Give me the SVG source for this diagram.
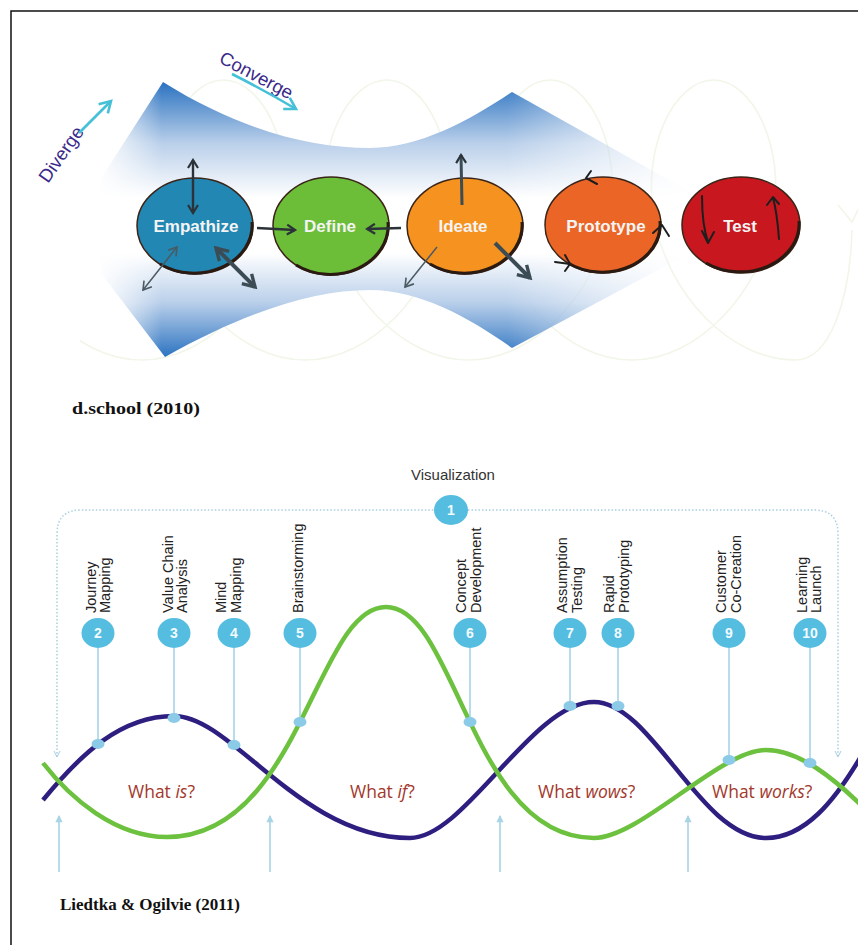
<svg xmlns="http://www.w3.org/2000/svg" width="858" height="945" viewBox="0 0 858 945">
<style>
.lbl{font-family:"Liberation Sans",Arial,sans-serif;font-weight:bold;font-size:17px;fill:#f4f4f4;text-anchor:middle}
.dc{font-family:"Liberation Sans",Arial,sans-serif;font-size:18.5px;fill:#3b2a8a}
.ring{stroke:#3a2418;stroke-width:1.5}
.shadow{fill:none;stroke:#2a1a12;stroke-width:3}
.ad{fill:none;stroke:#2b3238;stroke-width:2.4}
.ag{fill:none;stroke:#4a5a62;stroke-width:1.5}
.at{fill:none;stroke:#3c4c55;stroke-width:4}
.hook{fill:none;stroke:#1e1e1e;stroke-width:2;stroke-linecap:round;stroke-linejoin:round}
.cap{font-family:"Liberation Serif","Times New Roman",serif;font-weight:bold;font-size:17px;fill:#111}
.num{fill:#55bde0}
.numt{font-family:"Liberation Sans",Arial,sans-serif;font-weight:bold;font-size:14px;fill:#f2fbff;text-anchor:middle}
.tech{font-family:"Liberation Sans",Arial,sans-serif;font-size:14.5px;fill:#222}
.stem{stroke:#9fd0e4;stroke-width:1.5;fill:none}
.dot{fill:#8ccbe8}
.what{font-family:"Open Sans","Liberation Sans",sans-serif;font-size:17.5px;fill:#a3382b}
.up{stroke:#a8d4e6;stroke-width:1.6;fill:none}
.bg{fill:none;stroke:#f1f6e9;stroke-width:1.6}
</style>
<defs>
<linearGradient id="bowV" gradientUnits="userSpaceOnUse" x1="0" y1="82" x2="0" y2="358">
<stop offset="0" stop-color="#2a72c0"/>
<stop offset="0.22" stop-color="#b9cfea"/>
<stop offset="0.42" stop-color="#ffffff"/>
<stop offset="0.62" stop-color="#ffffff"/>
<stop offset="0.8" stop-color="#b9cfea"/>
<stop offset="1" stop-color="#2a72c0"/>
</linearGradient>
<linearGradient id="bowH" gradientUnits="userSpaceOnUse" x1="95" y1="0" x2="700" y2="0">
<stop offset="0" stop-color="#000"/>
<stop offset="0.11" stop-color="#fff"/>
<stop offset="0.68" stop-color="#fff"/>
<stop offset="1" stop-color="#000"/>
</linearGradient>
<mask id="bowM" maskUnits="userSpaceOnUse" x="0" y="0" width="858" height="400">
<rect x="0" y="0" width="858" height="400" fill="url(#bowH)"/>
</mask>
<clipPath id="bgClip"><rect x="80" y="40" width="778" height="340"/></clipPath>
<marker id="hd" viewBox="0 0 12 12" refX="10" refY="6" markerWidth="12" markerHeight="12" markerUnits="userSpaceOnUse" orient="auto-start-reverse">
<path d="M2,1 L10,6 L2,11" fill="none" stroke="#2b3238" stroke-width="2.2"/>
</marker>
<marker id="hg" viewBox="0 0 12 12" refX="10" refY="6" markerWidth="12" markerHeight="12" markerUnits="userSpaceOnUse" orient="auto-start-reverse">
<path d="M2,1 L10,6 L2,11" fill="none" stroke="#4a5a62" stroke-width="1.6"/>
</marker>
<marker id="ht" viewBox="0 0 16 16" refX="13" refY="8" markerWidth="17" markerHeight="17" markerUnits="userSpaceOnUse" orient="auto-start-reverse">
<path d="M2,1.5 L13,8 L2,14.5" fill="none" stroke="#3c4c55" stroke-width="3.2"/>
</marker>
<marker id="hc" viewBox="0 0 16 16" refX="13" refY="8" markerWidth="16" markerHeight="16" markerUnits="userSpaceOnUse" orient="auto">
<path d="M2,1.5 L13,8 L2,14.5" fill="none" stroke="#45c0d6" stroke-width="2.6"/>
</marker>
<marker id="hu" viewBox="0 0 10 10" refX="5" refY="1" markerWidth="9" markerHeight="9" markerUnits="userSpaceOnUse" orient="0">
<path d="M5,0 L9,8 L1,8 Z" fill="#a8d4e6"/>
</marker>
</defs>

<rect x="0" y="0" width="858" height="945" fill="#ffffff"/>
<path d="M11 945 L11 11 L858 11" fill="none" stroke="#111" stroke-width="1.5"/>

<!-- faint background loops -->
<g id="background-loops" clip-path="url(#bgClip)">
<path class="bg" d="M60 80 C21.3 80 -12.8 146.7 0.8 220 C14.4 293.3 75.7 360 141.7 360 C207.7 360 269 293.3 282.5 220 C296.1 146.7 262.1 80 223.4 80 C184.7 80 150.6 146.7 164.2 220 C177.8 293.3 239.1 360 305.1 360 C371.1 360 432.4 293.3 445.9 220 C459.5 146.7 425.5 80 386.8 80 C348.1 80 314 146.7 327.6 220 C341.2 293.3 402.5 360 468.5 360 C534.5 360 595.8 293.3 609.3 220 C622.9 146.7 588.9 80 550.2 80 C511.5 80 477.4 146.7 491 220 C504.6 293.3 565.9 360 631.9 360 C697.9 360 759.2 293.3 772.7 220 C786.3 146.7 752.3 80 713.6 80 C674.9 80 640.8 146.7 654.4 220 C668 293.3 729.3 360 795.3 360 C830 360 850 300 852 230"/>
<path class="bg" d="M838 205 L852 222 L862 202"/>
</g>

<!-- bowtie shape -->
<g id="diverge-converge-shape">
<path d="M163 82 C240 130 310 148 370 148 C420 148 470 120 512 92 L705 200 L705 245 L512 348 C470 318 420 290 370 290 C310 290 240 315 165 357 L100 272 L100 180 Z" fill="url(#bowV)" mask="url(#bowM)"/>
</g>

<g id="diverge-label">
<text class="dc" transform="translate(48,184) rotate(-55)">Diverge</text>
</g>
<g id="converge-label">
<text class="dc" transform="translate(218,62) rotate(28)">Converge</text>
</g>

<g id="connectors-top">
<path d="M79 133 L111 101" fill="none" stroke="#45c0d6" stroke-width="2.6" marker-end="url(#hc)"/>
<path d="M232 74 Q262 89 296 109" fill="none" stroke="#45c0d6" stroke-width="2.6" marker-end="url(#hc)"/>
</g>

<!-- nodes -->
<g id="empathize">
<ellipse cx="195" cy="226" rx="58" ry="48" fill="#2287b3" class="ring"/>
<path class="shadow" d="M252 222 A58 48 0 0 1 160 264"/>
<text class="lbl" x="196" y="232">Empathize</text>
</g>
<g id="define">
<ellipse cx="331" cy="226" rx="58" ry="49" fill="#6cbd38" class="ring"/>
<path class="shadow" d="M388 222 A58 49 0 0 1 296 265"/>
<text class="lbl" x="330" y="232">Define</text>
</g>
<g id="ideate">
<ellipse cx="465" cy="226" rx="58" ry="48" fill="#f6921f" class="ring"/>
<path class="shadow" d="M522 222 A58 48 0 0 1 430 264"/>
<text class="lbl" x="463" y="232">Ideate</text>
</g>
<g id="prototype">
<ellipse cx="603" cy="225" rx="58" ry="48" fill="#ea6526" class="ring"/>
<path class="shadow" d="M660 221 A58 48 0 0 1 568 263"/>
<text class="lbl" x="606" y="232">Prototype</text>
</g>
<g id="test">
<ellipse cx="741" cy="225" rx="59" ry="48" fill="#c8171e" class="ring"/>
<path class="shadow" d="M799 221 A59 48 0 0 1 706 263"/>
<text class="lbl" x="740" y="232">Test</text>
</g>

<g id="connectors-circles">
<line class="ad" x1="193" y1="160" x2="193" y2="213" marker-start="url(#hd)" marker-end="url(#hd)"/>
<line class="ag" x1="143" y1="290" x2="177" y2="247" marker-start="url(#hg)" marker-end="url(#hg)"/>
<line class="at" x1="216" y1="248" x2="255" y2="287" marker-start="url(#ht)" marker-end="url(#ht)"/>
<line class="ad" x1="257" y1="228" x2="295" y2="230" marker-end="url(#hd)"/>
<line class="ad" x1="401" y1="228" x2="367" y2="229" marker-end="url(#hd)"/>
<line class="at" x1="462" y1="205" x2="461" y2="155" style="stroke-width:3" marker-end="url(#hd)"/>
<line class="ag" x1="437" y1="247" x2="405" y2="287" marker-end="url(#hg)"/>
<line class="at" x1="495" y1="243" x2="530" y2="278" marker-end="url(#ht)"/>
<path class="hook" d="M591 171 L586 178 L597 184"/>
<path class="hook" d="M653 233 L662 225 L669 236"/>
<path class="hook" d="M555 262 L570 264 M565 255 L570 264 L565 271"/>
<path class="hook" d="M702 196 Q702 225 708 242 M702 231 L708 243 L714 232"/>
<path class="hook" d="M779 239 Q777 212 773 198 M767 205 L773 197 L779 204"/>
</g>

<text class="cap" x="72" y="414" textLength="128" lengthAdjust="spacingAndGlyphs">d.school (2010)</text>

<!-- bottom diagram -->
<text x="453" y="480" font-family="Liberation Sans, Arial, sans-serif" font-size="15" fill="#333" text-anchor="middle">Visualization</text>

<g id="frame">
<path d="M57 757 L57 534 Q57 510 81 510 L434 510 M468 510 L814 510 Q838 510 838 534 L838 757" fill="none" stroke="#a8d0e0" stroke-width="1.5" stroke-dasharray="1.5 2"/>
<path d="M54 751 L57 757 L60 751 M835 751 L838 757 L841 751" fill="none" stroke="#a8d0e0" stroke-width="1"/>
</g>

<g id="curves">
<path d="M43 800 C80 755 120 716 174 716 C232 716 300 838 410 838 C465 838 532 702 594 702 C652 702 700 838 766 838 C805 838 835 800 860 758" fill="none" stroke="#2d1e80" stroke-width="4.5"/>
<path d="M43 763 C70 798 115 837 167 837 C300 837 316 607 386 607 C456 607 471 838 594 838 C640 838 720 750 766 750 C800 750 835 780 860 804" fill="none" stroke="#6cc13e" stroke-width="4.5"/>
</g>

<g id="stems">
<line class="stem" x1="98" y1="648" x2="98" y2="745"/>
<line class="stem" x1="174" y1="648" x2="174" y2="716"/>
<line class="stem" x1="234" y1="648" x2="234" y2="745"/>
<line class="stem" x1="300" y1="648" x2="300" y2="722"/>
<line class="stem" x1="470" y1="648" x2="470" y2="722"/>
<line class="stem" x1="570" y1="648" x2="570" y2="705"/>
<line class="stem" x1="618" y1="648" x2="618" y2="705"/>
<line class="stem" x1="729" y1="648" x2="729" y2="760"/>
<line class="stem" x1="810" y1="648" x2="810" y2="763"/>
<ellipse class="dot" cx="98" cy="744" rx="6.5" ry="5"/>
<ellipse class="dot" cx="174" cy="718" rx="6.5" ry="5"/>
<ellipse class="dot" cx="234" cy="745" rx="6.5" ry="5"/>
<ellipse class="dot" cx="300" cy="722" rx="6.5" ry="5"/>
<ellipse class="dot" cx="470" cy="722" rx="6.5" ry="5"/>
<ellipse class="dot" cx="570" cy="706" rx="6.5" ry="5"/>
<ellipse class="dot" cx="618" cy="706" rx="6.5" ry="5"/>
<ellipse class="dot" cx="729" cy="760" rx="6.5" ry="5"/>
<ellipse class="dot" cx="810" cy="763" rx="6.5" ry="5"/>
</g>

<g id="up-arrows">
<line class="up" x1="59" y1="872" x2="59" y2="816" marker-end="url(#hu)"/>
<line class="up" x1="270" y1="872" x2="270" y2="816" marker-end="url(#hu)"/>
<line class="up" x1="500" y1="872" x2="500" y2="816" marker-end="url(#hu)"/>
<line class="up" x1="688" y1="872" x2="688" y2="816" marker-end="url(#hu)"/>
</g>

<g id="step-1"><ellipse class="num" cx="451" cy="510" rx="17" ry="15"/><text class="numt" x="451" y="515">1</text></g>
<g id="step-2"><ellipse class="num" cx="98" cy="633" rx="16.5" ry="15"/><text class="numt" x="98" y="638">2</text>
<text class="tech" transform="translate(96,613) rotate(-90)">Journey</text><text class="tech" transform="translate(110,613) rotate(-90)">Mapping</text></g>
<g id="step-3"><ellipse class="num" cx="174" cy="633" rx="16.5" ry="15"/><text class="numt" x="174" y="638">3</text>
<text class="tech" transform="translate(173,613) rotate(-90)">Value Chain</text><text class="tech" transform="translate(187,613) rotate(-90)">Analysis</text></g>
<g id="step-4"><ellipse class="num" cx="234" cy="633" rx="16.5" ry="15"/><text class="numt" x="234" y="638">4</text>
<text class="tech" transform="translate(226,613) rotate(-90)">Mind</text><text class="tech" transform="translate(241,613) rotate(-90)">Mapping</text></g>
<g id="step-5"><ellipse class="num" cx="300" cy="633" rx="16.5" ry="15"/><text class="numt" x="300" y="638">5</text>
<text class="tech" transform="translate(303,613) rotate(-90)">Brainstorming</text></g>
<g id="step-6"><ellipse class="num" cx="470" cy="633" rx="16.5" ry="15"/><text class="numt" x="470" y="638">6</text>
<text class="tech" transform="translate(466,613) rotate(-90)">Concept</text><text class="tech" transform="translate(481,613) rotate(-90)">Development</text></g>
<g id="step-7"><ellipse class="num" cx="570" cy="633" rx="16.5" ry="15"/><text class="numt" x="570" y="638">7</text>
<text class="tech" transform="translate(567,613) rotate(-90)">Assumption</text><text class="tech" transform="translate(582,613) rotate(-90)">Testing</text></g>
<g id="step-8"><ellipse class="num" cx="618" cy="633" rx="16.5" ry="15"/><text class="numt" x="618" y="638">8</text>
<text class="tech" transform="translate(614,613) rotate(-90)">Rapid</text><text class="tech" transform="translate(629,613) rotate(-90)">Prototyping</text></g>
<g id="step-9"><ellipse class="num" cx="729" cy="633" rx="16.5" ry="15"/><text class="numt" x="729" y="638">9</text>
<text class="tech" transform="translate(726,613) rotate(-90)">Customer</text><text class="tech" transform="translate(741,613) rotate(-90)">Co-Creation</text></g>
<g id="step-10"><ellipse class="num" cx="810" cy="633" rx="16.5" ry="15"/><text class="numt" x="810" y="638">10</text>
<text class="tech" transform="translate(807,613) rotate(-90)">Learning</text><text class="tech" transform="translate(821,613) rotate(-90)">Launch</text></g>

<g id="phase-labels">
<text class="what" x="128" y="798">What <tspan font-style="italic">is</tspan>?</text>
<text class="what" x="350" y="798">What <tspan font-style="italic">if</tspan>?</text>
<text class="what" x="538" y="798">What <tspan font-style="italic">wows</tspan>?</text>
<text class="what" x="712" y="798">What <tspan font-style="italic">works</tspan>?</text>
</g>

<text class="cap" x="60" y="910" textLength="180" lengthAdjust="spacingAndGlyphs">Liedtka &amp; Ogilvie (2011)</text>
</svg>
